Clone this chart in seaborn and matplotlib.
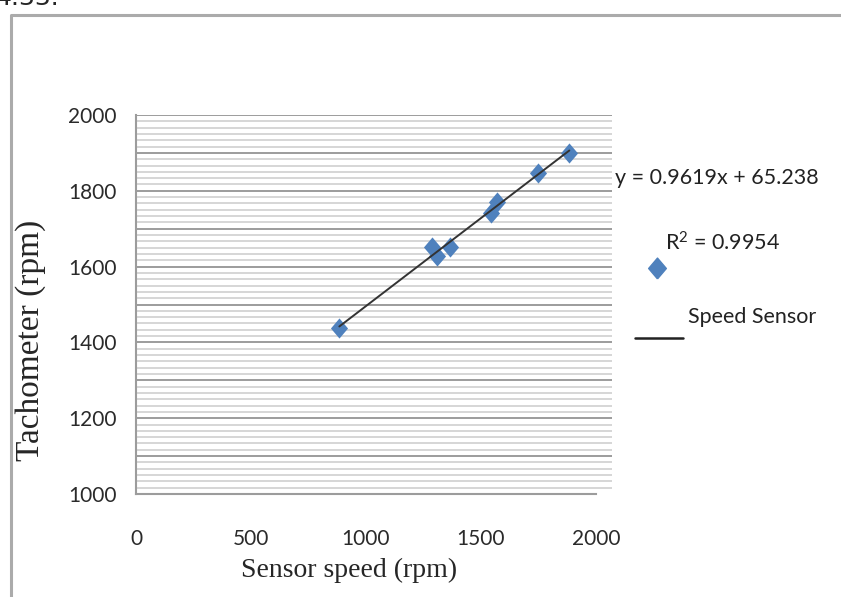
import matplotlib.pyplot as plt
import pandas as pd
import seaborn as sns
from matplotlib.lines import Line2D
from matplotlib.ticker import AutoMinorLocator

# values
sensor_speed = [884, 1286, 1307, 1365, 1543, 1570, 1747, 1884]
tachometer = [1439, 1653, 1627, 1653, 1741, 1771, 1847, 1901]

x_ticks = [0, 500, 1000, 1500, 2000]
y_ticks = [1000, 1100, 1200, 1300, 1400, 1500, 1600, 1700, 1800, 1900, 2000]
y_tick_labels = ['1000', '', '1200', '', '1400', '', '1600', '', '1800', '', '2000']

equation = 'y = 0.9619x + 65.238'
r_squared = 'R$^2$ = 0.9954'
series_name = 'Speed Sensor'

data = pd.DataFrame({'Sensor_Speed': sensor_speed, 'Tachometer': tachometer})

sns.set_style('white')
plt.rcParams['font.family'] = ['Lato', 'DejaVu Sans']
plt.rcParams['mathtext.default'] = 'regular'

W, H = 841, 597
fig = plt.figure(figsize=(W / 100, H / 100), dpi=100)
ax = fig.add_axes([136 / W, (H - 494) / H, (612 - 136) / W, (494 - 115) / H])

blue = '#4f81bd'
diamond = [(0, -1), (0.85, 0), (0, 1), (-0.85, 0), (0, -1)]

sns.regplot(data=data, x='Sensor_Speed', y='Tachometer', scatter=False,
            ci=None, truncate=True, ax=ax,
            line_kws={'color': '#333333', 'lw': 1.4, 'zorder': 4})
sns.scatterplot(data=data, x='Sensor_Speed', y='Tachometer', ax=ax,
                marker=diamond, s=210, color=blue, linewidth=0, zorder=3)

# x axis runs to 2000 but the plot area goes a bit further
ax.set_xlim(0, 2000 * (612 - 136) / (596 - 136))
ax.set_ylim(1000, 2000)
ax.set_xticks(x_ticks)
ax.set_yticks(y_ticks)
ax.set_yticklabels(y_tick_labels)
ax.yaxis.set_minor_locator(AutoMinorLocator(6))

ax.grid(False)
for v in y_ticks[1:]:
    ax.axhline(v, color='#9c9c9c', lw=1.4, zorder=1)
for v in ax.yaxis.get_minorticklocs():
    ax.axhline(v, color='#cfcfcf', lw=1.2, zorder=1)

for side in ['top', 'right']:
    ax.spines[side].set_visible(False)
for side in ['left', 'bottom']:
    ax.spines[side].set_color('#9c9c9c')
    ax.spines[side].set_linewidth(1.5)
ax.spines['bottom'].set_bounds(0, 2000)

ax.tick_params(axis='both', which='major', direction='out', length=7,
               width=1.5, color='#9c9c9c', labelsize=15, labelcolor='#2a2a2a')
ax.tick_params(axis='y', which='minor', length=0)
ax.tick_params(axis='x', pad=18)
ax.tick_params(axis='y', pad=7)

ax.set_xlabel('Sensor speed (rpm)', family='Liberation Serif', fontsize=20)
ax.xaxis.set_label_coords((349 - 136) / 476, -(570 - 494) / 379, transform=ax.transAxes)
ax.xaxis.label.set_va('center')
ax.set_ylabel('Tachometer (rpm)', family='Liberation Serif', fontsize=24)
ax.yaxis.set_label_coords(-(136 - 31) / 476, (494 - 340) / 379, transform=ax.transAxes)
ax.yaxis.label.set_va('center')

# legend / trendline labels, placed like the Excel chart
fig.text(615 / W, 1 - 178 / H, equation, fontsize=15.5, va='center', color='#222222')
fig.text(665 / W, 1 - 243 / H, r_squared, fontsize=15.5, va='center', color='#222222')
fig.add_artist(Line2D([657 / W], [1 - 268 / H], transform=fig.transFigure,
                      marker=diamond, markersize=15, color=blue, lw=0))
fig.add_artist(Line2D([635 / W, 683 / W], [1 - 338 / H, 1 - 338 / H],
                      transform=fig.transFigure, color='#222222', lw=1.8))
fig.text(688 / W, 1 - 317 / H, series_name, fontsize=15.5, va='center', color='#222222')

# chart border and the cut-off caption above it
fig.add_artist(Line2D([10.5 / W, 10.5 / W, 1], [0, 1 - 14.5 / H, 1 - 14.5 / H],
                      transform=fig.transFigure, color='#ababab', lw=2.2))
fig.text(-4 / W, 1 - 5 / H, '4.33.', fontsize=18, family='DejaVu Sans', va='baseline')

plt.savefig('out.png', dpi=100)
